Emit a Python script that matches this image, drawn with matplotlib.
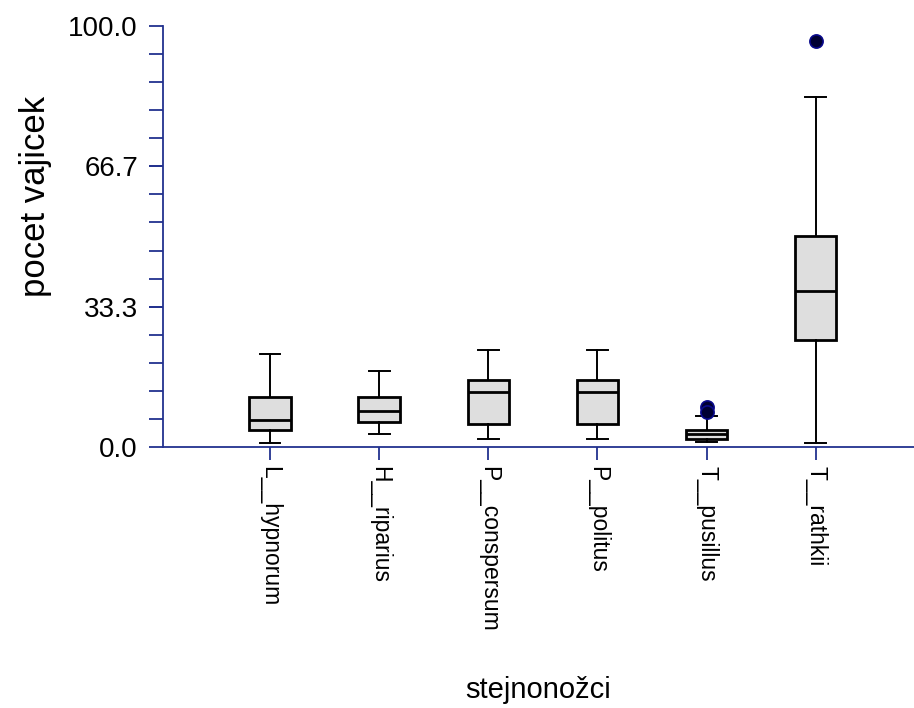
import matplotlib

matplotlib.use("Agg")
import matplotlib.pyplot as plt

# box statistics
species = ["L__hypnorum", "H__riparius", "P__conspersum", "P__politus", "T__pusillus", "T__rathkii"]
whisker_low = [1.0, 3.0, 2.0, 2.0, 1.3, 1.0]
q1 = [4.0, 6.0, 5.5, 5.5, 2.0, 25.4]
median = [6.5, 8.6, 13.1, 13.1, 3.0, 37.0]
q3 = [11.9, 11.9, 15.8, 15.8, 4.0, 50.1]
whisker_high = [22.1, 18.0, 23.0, 23.0, 7.3, 83.2]
outliers = [[], [], [], [], [9.6, 8.4], [96.4]]

y_ticks = [0.0, 33.3, 66.7, 100.0]
y_tick_labels = ["0.0", "33.3", "66.7", "100.0"]

AXIS_COLOR = "#22318f"

plt.rcParams["font.family"] = ["Liberation Sans", "DejaVu Sans"]

stats = []
for i, name in enumerate(species):
    stats.append({
        "label": name,
        "whislo": whisker_low[i],
        "q1": q1[i],
        "med": median[i],
        "q3": q3[i],
        "whishi": whisker_high[i],
        "fliers": outliers[i],
    })

fig = plt.figure(figsize=(9.14, 7.08), dpi=100)
ax = fig.add_axes([163 / 914, 1 - 447 / 708, 1 - 163 / 914, 421 / 708])

ax.bxp(
    stats,
    positions=range(len(species)),
    widths=0.38,
    patch_artist=True,
    boxprops=dict(facecolor="#dedede", edgecolor="black", linewidth=2.0),
    medianprops=dict(color="black", linewidth=2.0),
    whiskerprops=dict(color="black", linewidth=1.4),
    capprops=dict(color="black", linewidth=1.4),
    capwidths=0.19,
    flierprops=dict(marker="o", markerfacecolor="#000033", markeredgecolor="#0a0a8c",
                    markersize=9.5, markeredgewidth=1.2),
)

ax.set_xlim(-0.98, 5.9)
ax.set_ylim(0, 100)

ax.spines["top"].set_visible(False)
ax.spines["right"].set_visible(False)
for side in ("left", "bottom"):
    ax.spines[side].set_color(AXIS_COLOR)
    ax.spines[side].set_linewidth(1.3)

ax.set_yticks(y_ticks, y_tick_labels, fontsize=20)
ax.set_yticks([i * 100 / 15 for i in range(16)], minor=True)
ax.tick_params(axis="y", which="both", length=10, width=1.3, color=AXIS_COLOR, pad=8)
ax.tick_params(axis="y", which="minor", labelleft=False)

ax.set_xticks(range(len(species)), species, rotation=270, fontsize=16.5, va="top", ha="center")
ax.tick_params(axis="x", length=9, width=1.3, color=AXIS_COLOR, pad=5)

ax.set_ylabel("pocet vajicek", fontsize=25)
ax.yaxis.set_label_coords(-0.17, 0.594)
ax.yaxis.label.set_va("center")

ax.set_xlabel("stejnonožci", fontsize=21)
ax.xaxis.set_label_coords(0.5, -0.577)
ax.xaxis.label.set_va("center")

fig.savefig("out.png", dpi=100)
plt.close(fig)
